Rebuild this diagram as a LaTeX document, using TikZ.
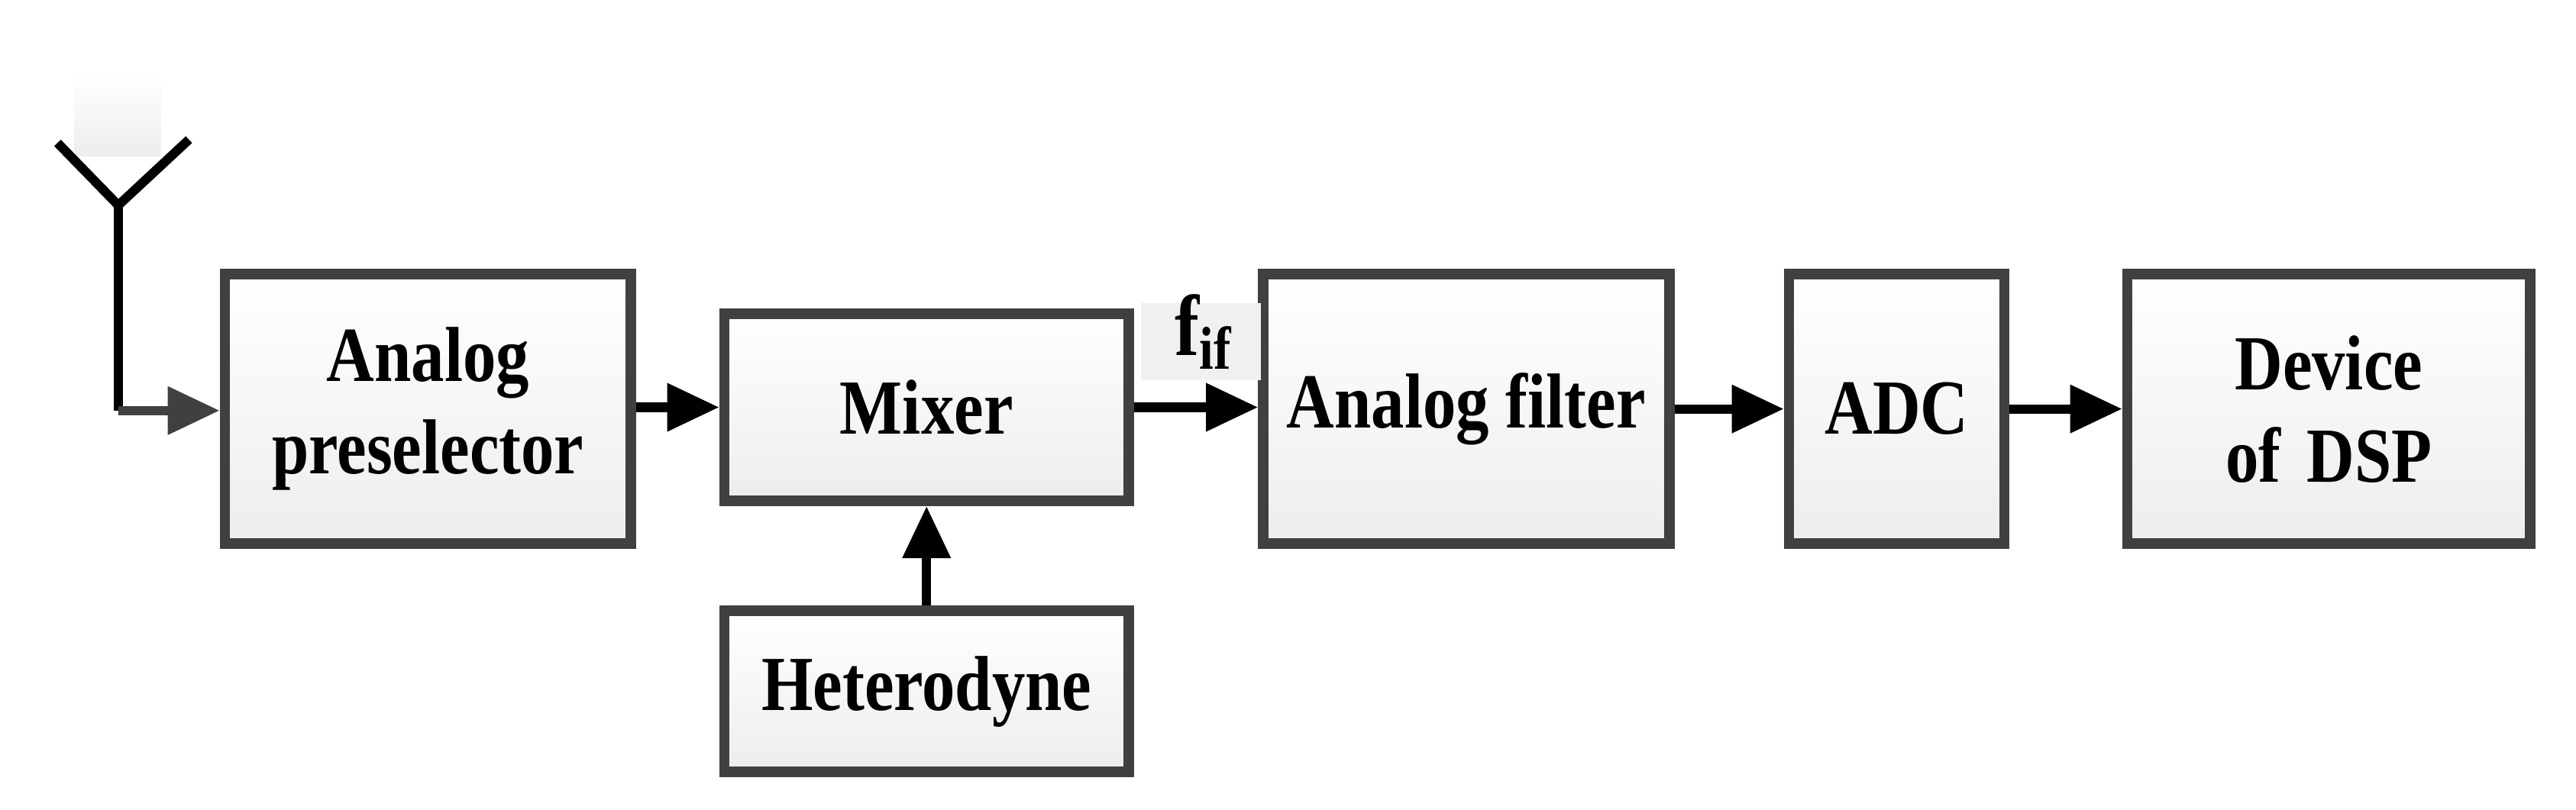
\documentclass[tikz,border=0pt]{standalone}
\usepackage{fontspec}
\setmainfont{Liberation Serif}[FakeStretch=0.85]
\usetikzlibrary{arrows.meta}
\definecolor{bd}{HTML}{404040}
\begin{document}
\begin{tikzpicture}[x=0.01cm,y=-0.01cm,
 blk/.style={draw=bd,line width=1.8pt,top color=white,bottom color=black!7,inner sep=0,align=center,font=\fontsize{13.5}{16}\selectfont\bfseries},
 arr/.style={line width=1.6pt,-{Triangle[length=9pt,width=8pt]}}]
\useasboundingbox (0,0) rectangle (1568,493);
\fill[top color=white,bottom color=black!7] (45,45) rectangle (98,95);
\node[blk,minimum width=2.47cm,minimum height=1.64cm,text width=2.4cm] (pre) at (260.5,249) {Analog\\preselector};
\node[blk,minimum width=2.46cm,minimum height=1.14cm] (mix) at (564,248) {Mixer};
\node[blk,minimum width=2.46cm,minimum height=0.98cm] (het) at (564,421) {Heterodyne};
\node[blk,minimum width=2.47cm,minimum height=1.64cm] (flt) at (892.5,249) {Analog filter};
\node[blk,minimum width=1.31cm,minimum height=1.64cm] (adc) at (1154.5,249) {ADC};
\node[blk,minimum width=2.45cm,minimum height=1.64cm,text width=2.4cm] (dsp) at (1417.5,249) {Device\\of DSP};
\node[fill=black!6,minimum width=0.73cm,minimum height=0.47cm,inner sep=0] (fl) at (731,208) {};
\node[font=\fontsize{15}{18}\selectfont\bfseries] (fif) at (733,202) {f\textsubscript{if}};
\coordinate (tip) at (72,125);
\coordinate (corner) at (72,250);
\coordinate (la) at (35,87);
\coordinate (ra) at (115,85);
\draw[line width=1.6pt] (la) -- (tip) -- (ra);
\draw[line width=1.6pt] (tip) -- (corner);
\draw[line width=1.6pt,draw=bd,-{Triangle[length=9pt,width=8pt]}] (corner) -- (pre.west|-corner);
\draw[arr] (pre.east|-mix) -- (mix.west);
\draw[arr] (mix.east) -- (flt.west|-mix);
\draw[arr] (flt.east) -- (adc.west);
\draw[arr] (adc.east) -- (dsp.west);
\draw[arr] (het.north) -- (mix.south);
\end{tikzpicture}
\end{document}
